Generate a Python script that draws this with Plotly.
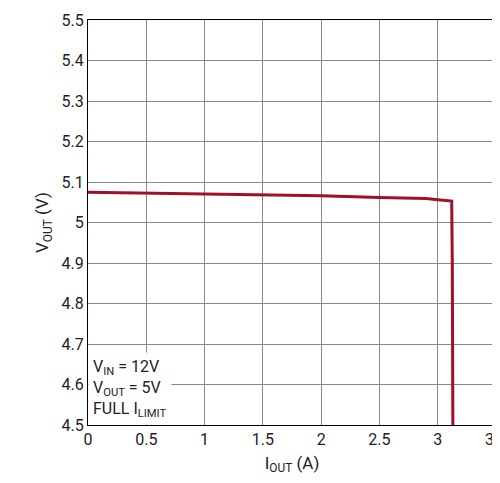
import plotly.graph_objects as go

iout = [0, 0.5, 1.0, 1.5, 2.0, 2.5, 2.9, 3.0, 3.05, 3.12, 3.125, 3.13]
vout = [5.075, 5.073, 5.071, 5.069, 5.066, 5.062, 5.059, 5.056, 5.054, 5.053, 4.9, 4.5]
xticks = [0, 0.5, 1, 1.5, 2, 2.5, 3, 3.5]
xlabels = ["0", "0.5", "1", "1.5", "2", "2.5", "3", "3.5"]
yticks = [4.5, 4.6, 4.7, 4.8, 4.9, 5.0, 5.1, 5.2, 5.3, 5.4, 5.5]
ylabels = ["4.5", "4.6", "4.7", "4.8", "4.9", "5", "5.1", "5.2", "5.3", "5.4", "5.5"]

font = "Liberation Sans Narrow, Roboto, Liberation Sans, Arial"
fig = go.Figure(go.Scatter(x=iout, y=vout, mode="lines",
                           line=dict(color="#a0102a", width=3), showlegend=False))
ax = dict(showgrid=True, gridcolor="#888", gridwidth=1, linecolor="black", linewidth=1,
          mirror=True, ticks="", zeroline=False, automargin=False,
          tickfont=dict(size=16, color="#222"))
fig.update_xaxes(range=[0, 3.5], tickvals=xticks, ticktext=xlabels,
                 title=dict(text="I<sub>OUT</sub> (A)", font=dict(size=17, color="#222"), standoff=8), **ax)
fig.update_yaxes(range=[4.5, 5.5], tickvals=yticks, ticktext=ylabels,
                 title=dict(text="V<sub>OUT</sub> (V)", font=dict(size=17, color="#222"), standoff=8), **ax)
fig.add_annotation(xref="paper", yref="paper", x=0.0, y=0.0, xanchor="left", yanchor="bottom",
                   align="left", showarrow=False, bgcolor="white", borderpad=4,
                   text="V<sub>IN</sub> = 12V<br>V<sub>OUT</sub> = 5V<br>FULL I<sub>LIMIT</sub>",
                   font=dict(size=16, color="#222", family=font))
fig.update_layout(width=500, height=483, plot_bgcolor="white", paper_bgcolor="white",
                  font=dict(family=font), margin=dict(l=80, r=12, t=12, b=66))
fig.write_html("out.html")
